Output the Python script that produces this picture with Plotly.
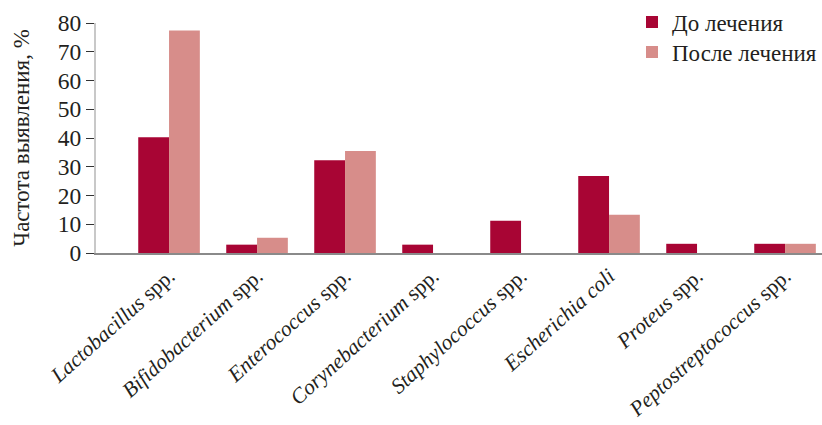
import plotly.graph_objects as go

categories = [
    "<i>Lactobacillus</i> spp.",
    "<i>Bifidobacterium</i> spp.",
    "<i>Enterococcus</i> spp.",
    "<i>Corynebacterium</i> spp.",
    "<i>Staphylococcus</i> spp.",
    "<i>Escherichia coli</i>",
    "<i>Proteus</i> spp.",
    "<i>Peptostreptococcus</i> spp.",
]
before = [40.3, 2.9, 32.3, 2.9, 11.2, 26.8, 3.2, 3.2]
after = [77.4, 5.3, 35.5, 0, 0, 13.3, 0, 3.2]
series_names = ["До лечения", "После лечения"]
y_ticks = [0, 10, 20, 30, 40, 50, 60, 70, 80]

FONT = "Liberation Serif"
TXT = "#231f20"

fig = go.Figure()
fig.add_trace(go.Bar(x=categories, y=before, name=series_names[0], legend="legend",
                     showlegend=True,
                     marker=dict(color="#a80534", line=dict(width=0))))
fig.add_trace(go.Bar(x=categories, y=after, name=series_names[1], legend="legend2",
                     showlegend=True,
                     marker=dict(color="#d78d8a", line=dict(width=0))))

# plot area: x 96..822 px, y 23..253 px
leg_x = (632 - 96) / 726
leg_common = dict(xanchor="left", yanchor="middle",
                  font=dict(family=FONT, size=23, color=TXT),
                  bgcolor="rgba(0,0,0,0)", itemwidth=30, borderwidth=0)

fig.update_layout(
    width=822, height=425,
    showlegend=True,
    margin=dict(l=96, r=0, t=23, b=172),
    paper_bgcolor="white", plot_bgcolor="white",
    barmode="group", bargap=0.3, bargroupgap=0,
    font=dict(family=FONT, size=23, color=TXT),
    legend=dict(x=leg_x, y=(253 - 22) / 230, visible=True, **leg_common),
    legend2=dict(x=leg_x, y=(253 - 52) / 230, visible=True, **leg_common),
    xaxis=dict(
        range=[-0.83, 7.42],
        tickangle=-42,
        tickfont=dict(family=FONT, size=21.5, color=TXT),
        showline=True, linecolor="#8a8a8a", linewidth=2,
        ticks="", showgrid=False, zeroline=False,
    ),
    yaxis=dict(
        range=[0, 80],
        tickvals=y_ticks,
        tickfont=dict(family=FONT, size=23.5, color=TXT),
        showline=True, linecolor="#c8c8c8", linewidth=2,
        ticks="outside", ticklen=8, tickcolor="#333333", tickwidth=1.2,
        showgrid=False, zeroline=False,
        title=dict(text="Частота выявления, %",
                   font=dict(family=FONT, size=23, color=TXT), standoff=22),
    ),
)

fig.write_html("out.html")
